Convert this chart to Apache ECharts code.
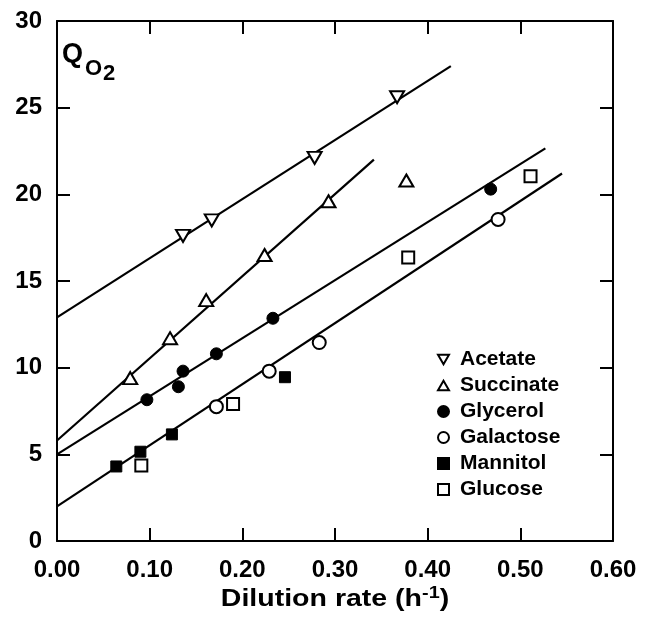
<!DOCTYPE html>
<html>
<head>
<meta charset="utf-8">
<script src="https://cdn.jsdelivr.net/npm/echarts@6/dist/echarts.min.js"></script>
<style>
  html, body { margin: 0; padding: 0; background: #fff; }
  #chart { width: 646px; height: 621px; }
</style>
</head>
<body>
<div id="chart"></div>
<script>
// Oxygen uptake rate (QO2) against dilution rate for different carbon sources
const acetate   = [[0.136, 17.6], [0.167, 18.5], [0.278, 22.1], [0.367, 25.6]];
const succinate = [[0.079, 9.4], [0.122, 11.7], [0.161, 13.9], [0.224, 16.5], [0.293, 19.6], [0.377, 20.8]];
const glycerol  = [[0.097, 8.15], [0.131, 8.9], [0.136, 9.8], [0.172, 10.8], [0.233, 12.85], [0.468, 20.3]];
const galactose = [[0.172, 7.75], [0.229, 9.8], [0.283, 11.45], [0.476, 18.55]];
const mannitol  = [[0.064, 4.3], [0.090, 5.15], [0.124, 6.15], [0.246, 9.45]];
const glucose   = [[0.091, 4.35], [0.190, 7.9], [0.379, 16.35], [0.511, 21.05]];

// Regression lines (end points)
const acetateFit   = [[0, 12.9], [0.425, 27.4]];
const succinateFit = [[0, 5.8], [0.342, 22.0]];
const glycerolFit  = [[0, 5.0], [0.527, 22.65]];
const sugarFit     = [[0, 2.0], [0.545, 21.2]];

const xTickLabels = ['0.00', '0.10', '0.20', '0.30', '0.40', '0.50', '0.60'];
const yTickLabels = ['0', '5', '10', '15', '20', '25', '30'];

const FONT = '"Liberation Sans", Arial, Helvetica, sans-serif';
const downTriangle = 'path://M0,0 L10,0 L5,8.66 Z';
const upTriangle = 'path://M5,0 L10,8.66 L0,8.66 Z';

const chart = echarts.init(document.getElementById('chart'), null, { renderer: 'canvas' });

function axisStyle(extra) {
  return Object.assign({
    axisLine: { show: true, onZero: false, lineStyle: { color: '#000', width: 2 } },
    axisTick: { show: true, inside: true, length: 13, lineStyle: { color: '#000', width: 2 } },
    splitLine: { show: false }
  }, extra);
}

function fitSeries(data) {
  return {
    type: 'line', data: data, symbol: 'none', silent: true,
    lineStyle: { color: '#000', width: 2.2 }, z: 2
  };
}

function markSeries(name, data, symbol, filled, size) {
  return {
    name: name, type: 'scatter', data: data, symbol: symbol, symbolSize: size,
    itemStyle: filled
      ? { color: '#000', borderColor: '#000', borderWidth: 1, opacity: 1 }
      : { color: '#fff', borderColor: '#000', borderWidth: 2, opacity: 1 },
    z: 5
  };
}

const labelFont = { fontFamily: FONT, fontSize: 24, fontWeight: 'bold', color: '#000' };

chart.setOption({
  animation: false,
  backgroundColor: '#fff',
  grid: { left: 57, right: 33, top: 21, bottom: 80 },
  xAxis: [
    axisStyle({
      type: 'value', position: 'bottom', min: 0, max: 0.6, interval: 0.1,
      axisLabel: Object.assign({ margin: 17, formatter: v => xTickLabels[Math.round(v * 10)] }, labelFont)
    }),
    axisStyle({
      type: 'value', position: 'top', min: 0, max: 0.6, interval: 0.1,
      axisLabel: { show: false }
    })
  ],
  yAxis: [
    axisStyle({
      type: 'value', position: 'left', min: 0, max: 30, interval: 5,
      axisLabel: Object.assign({ margin: 15, formatter: v => yTickLabels[Math.round(v / 5)] }, labelFont)
    }),
    axisStyle({
      type: 'value', position: 'right', min: 0, max: 30, interval: 5,
      axisLabel: { show: false }
    })
  ],
  legend: {
    orient: 'vertical', left: 432, top: 344,
    itemWidth: 11, itemHeight: 11, itemGap: 5,
    data: ['Acetate', 'Succinate', 'Glycerol', 'Galactose', 'Mannitol', 'Glucose'],
    textStyle: { fontFamily: FONT, fontSize: 21, fontWeight: 'bold', color: '#000', lineHeight: 21, padding: [0, 0, 0, 6] },
    selectedMode: false
  },
  graphic: [
    { type: 'text', left: 62, top: 41, style: { text: 'Q', font: 'bold 27px ' + FONT, fill: '#000' } },
    { type: 'text', left: 85, top: 58, style: { text: 'O', font: 'bold 22px ' + FONT, fill: '#000' } },
    { type: 'text', left: 103, top: 63, style: { text: '2', font: 'bold 22px ' + FONT, fill: '#000' } },
    {
      type: 'text', x: 335, y: 600, scaleX: 1.24,
      style: {
        text: 'Dilution rate (h{sup|-1})',
        fontFamily: FONT, fontSize: 23, fontWeight: 'bold', fill: '#000',
        align: 'center', verticalAlign: 'middle', lineHeight: 28,
        rich: { sup: { fontFamily: FONT, fontSize: 16, fontWeight: 'bold', fill: '#000', lineHeight: 16, verticalAlign: 'top' } }
      }
    }
  ],
  series: [
    fitSeries(acetateFit),
    fitSeries(succinateFit),
    fitSeries(glycerolFit),
    fitSeries(sugarFit),
    markSeries('Acetate', acetate, downTriangle, false, [14, 12]),
    markSeries('Succinate', succinate, upTriangle, false, [14, 12]),
    markSeries('Glycerol', glycerol, 'circle', true, 12),
    markSeries('Galactose', galactose, 'circle', false, 13),
    markSeries('Mannitol', mannitol, 'rect', true, 11),
    markSeries('Glucose', glucose, 'rect', false, 12)
  ]
});
</script>
</body>
</html>
